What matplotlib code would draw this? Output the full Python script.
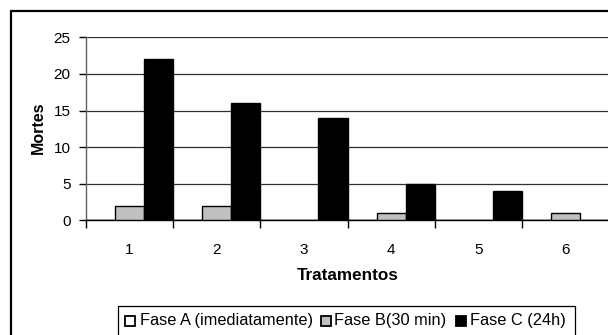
import matplotlib
matplotlib.use("Agg")
import matplotlib.pyplot as plt
from matplotlib.patches import Rectangle
import numpy as np

categories = ["1", "2", "3", "4", "5", "6"]
fase_a = [0, 0, 0, 0, 0, 0]
fase_b = [2, 2, 0, 1, 0, 1]
fase_c = [22, 16, 14, 5, 4, 0]
series_labels = ["Fase A (imediatamente)", "Fase B(30 min)", "Fase C (24h)"]
y_ticks = [0, 5, 10, 15, 20, 25]

plt.rcParams['font.family'] = ['Liberation Sans', 'DejaVu Sans']

W, H = 608, 335
fig = plt.figure(figsize=(W / 100, H / 100), dpi=100)

# outer chart frame (cropped at right and bottom)
fig.patches.append(Rectangle((10.5 / W, -0.1), 1.2, (H - 11) / H + 0.1,
                             transform=fig.transFigure, fill=False,
                             edgecolor='black', linewidth=1.6))

ax = fig.add_axes([86 / W, (H - 220.3) / H, (609 - 86) / W, (220.3 - 37.3) / H])
x = np.arange(1, len(categories) + 1)
w = 1 / 3
colors = ['white', '#C0C0C0', 'black']
for off, vals, col, lab in zip([-w, 0, w], [fase_a, fase_b, fase_c], colors, series_labels):
    ax.bar(x + off, vals, width=w, color=col, edgecolor='black', linewidth=1.0, label=lab, zorder=3)

ax.set_xlim(0.5, len(categories) + 0.5)
ax.set_ylim(0, 25)
ax.set_yticks(y_ticks)
ax.yaxis.grid(True, color='#303030', linewidth=0.9, zorder=0)
ax.set_axisbelow(True)
for s in ['top', 'right']:
    ax.spines[s].set_visible(False)
ax.spines['left'].set_color('#606060')
ax.spines['bottom'].set_color('black')
ax.spines['left'].set_linewidth(1.0)
ax.spines['bottom'].set_linewidth(1.0)

ax.set_xticks(x)
ax.set_xticklabels(categories, fontsize=11)
ax.tick_params(axis='x', which='major', length=0, pad=16)
ax.set_xticks(np.arange(0.5, len(categories) + 1, 1.0), minor=True)
ax.tick_params(axis='x', which='minor', length=6, direction='out', width=1.0)
ax.tick_params(axis='y', length=5, direction='out', width=1.0, labelsize=11, pad=6, color='black')

fig.text(38.8 / W, 1 - 127.5 / H, "Mortes", rotation=90, fontsize=11.5, fontweight='bold',
         ha='center', va='center')
fig.text(348 / W, 1 - 276 / H, "Tratamentos", fontsize=12.3, fontweight='bold',
         ha='center', va='center')

# legend box (cropped at bottom)
fig.patches.append(Rectangle((118.3 / W, -0.1), (574.5 - 118.3) / W, (H - 305.5) / H + 0.1,
                             transform=fig.transFigure, fill=False,
                             edgecolor='black', linewidth=0.9))
leg_y = 1 - 321 / H
items = [(125, 140, 'white', series_labels[0]), (321, 334, '#C0C0C0', series_labels[1]),
         (456, 470, 'black', series_labels[2])]
for sx, tx, col, lab in items:
    fig.patches.append(Rectangle((sx / W, leg_y - 5 / H), 10 / W, 10 / H,
                                 transform=fig.transFigure, facecolor=col,
                                 edgecolor='black', linewidth=1.3))
    fig.text(tx / W, leg_y, lab, fontsize=11.8, ha='left', va='center')

fig.savefig("out.png", dpi=100)
